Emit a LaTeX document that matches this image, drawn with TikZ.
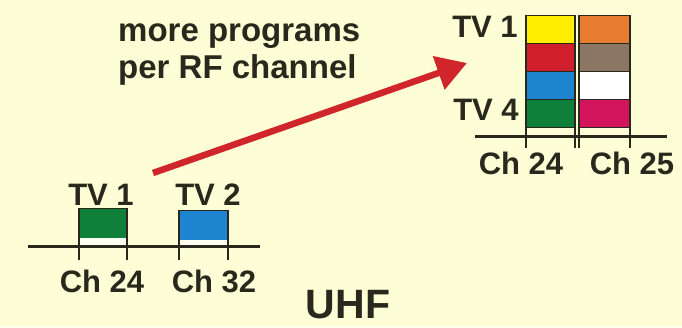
\documentclass[tikz,border=0pt]{standalone}
\usepackage{fontspec}
\setmainfont{Liberation Sans}
\usepackage{xcolor}
\usetikzlibrary{arrows.meta, positioning}

\definecolor{paper}{RGB}{253,253,214}
\definecolor{ink}{RGB}{40,40,28}
\definecolor{arrowred}{RGB}{208,38,43}
\definecolor{tvgreen}{RGB}{14,128,58}
\definecolor{tvblue}{RGB}{30,132,208}
\definecolor{tvyellow}{RGB}{255,238,0}
\definecolor{tvred}{RGB}{208,32,44}
\definecolor{tvorange}{RGB}{232,124,48}
\definecolor{tvbrown}{RGB}{138,118,98}
\definecolor{tvmagenta}{RGB}{210,20,92}

\begin{document}
\begin{tikzpicture}[
    x=1pt, y=-1pt,
    lbl/.style={font=\fontsize{31}{37}\selectfont\bfseries, text=ink, inner sep=0pt, anchor=base},
    chan/.style={draw=ink, line width=1pt, inner sep=0pt, outer sep=0pt, minimum width=49pt, minimum height=28pt},
    gapbox/.style={fill=white!65!paper, inner sep=0pt, outer sep=0pt, minimum width=48pt, minimum height=8pt},
    base/.style={draw=ink, line width=3pt},
    tick/.style={draw=ink, line width=1.3pt},
    bigarrow/.style={draw=arrowred, line width=6.5pt, -{Triangle[length=30pt, width=34pt]}},
    node distance=0pt,
]

% Background
\fill[paper] (0,0) rectangle (682,327);
\useasboundingbox (0,0) rectangle (682,327);

% Left: one program per RF channel
\node[chan, fill=tvgreen, minimum width=48pt, minimum height=30pt] (oneg) at (103,223) {};
\node[chan, fill=tvblue, minimum width=49pt, minimum height=30pt] (oneb) at (203.5,225) {};
\node[gapbox, below=of oneg] (gapg) {};
\node[gapbox, below=of oneb, minimum height=6pt] (gapb) {};
\draw[tick] (oneg.north west) -- ++(0,52);
\draw[tick] (oneg.north east) -- ++(0,52);
\draw[tick] (oneb.north west) -- ++(0,50);
\draw[tick] (oneb.north east) -- ++(0,50);
\coordinate (lbase0) at (28,246);
\coordinate (lbase1) at (260,246);
\draw[base] (lbase0) -- (lbase1);

\node[lbl] (ltv1) at (101,205) {TV 1};
\node[lbl] (ltv2) at (208,205) {TV 2};
\node[lbl] (lch24) at (102,292) {Ch 24};
\node[lbl] (lch32) at (214,292) {Ch 32};

% Right: four programs per RF channel
\node[chan, fill=tvyellow] (s1) at (550.5,29) {};
\node[chan, fill=tvred, below=of s1] (s2) {};
\node[chan, fill=tvblue, below=of s2] (s3) {};
\node[chan, fill=tvgreen, below=of s3] (s4) {};
\node[chan, fill=tvorange, minimum width=51pt] (t1) at (604.5,29) {};
\node[chan, fill=tvbrown, minimum width=51pt, below=of t1] (t2) {};
\node[chan, fill=white, minimum width=51pt, below=of t2] (t3) {};
\node[chan, fill=tvmagenta, minimum width=51pt, below=of t3] (t4) {};
\draw[tick] (s1.north west) -- ++(0,133);
\draw[tick] (s1.north east) -- ++(0,133);
\draw[tick] (t1.north west) -- ++(0,133);
\draw[tick] (t1.north east) -- ++(0,133);
\coordinate (rbase0) at (475,136);
\coordinate (rbase1) at (667,136);
\draw[base] (rbase0) -- (rbase1);

\node[lbl] (rtv1) at (485,37) {TV 1};
\node[lbl] (rtv4) at (486,120) {TV 4};
\node[lbl] (rch24) at (521,174) {Ch 24};
\node[lbl] (rch25) at (632,174) {Ch 25};

% Arrow and note
\coordinate (arrtail) at (153,173);
\coordinate (arrtip) at (467,63);
\draw[bigarrow] (arrtail) -- (arrtip);
\node[lbl, anchor=base west, font=\fontsize{33}{37}\selectfont\bfseries] (note1) at (118,41) {more programs};
\node[lbl, anchor=base west, font=\fontsize{33}{37}\selectfont\bfseries] (note2) at (118,78) {per RF channel};

\node[lbl, font=\fontsize{41}{46}\selectfont\bfseries] (band) at (348,318) {UHF};

\end{tikzpicture}
\end{document}
